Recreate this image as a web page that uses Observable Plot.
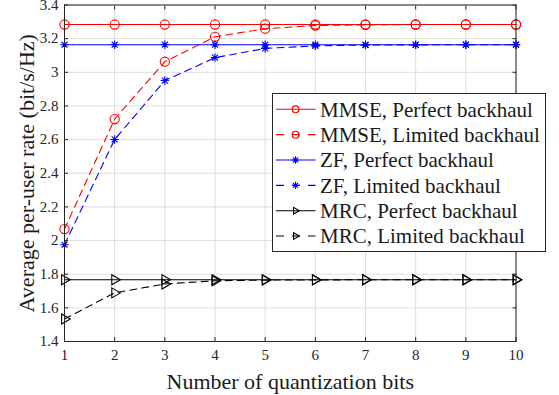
<!DOCTYPE html>
<html><head><meta charset="utf-8">
<script src="https://cdn.jsdelivr.net/npm/d3@7"></script>
<script src="https://cdn.jsdelivr.net/npm/@observablehq/plot@0.6"></script>
<style>
body{margin:0;background:#fff;}
#chart{position:relative;width:559px;height:395px;overflow:hidden;}
#chart svg text{font-family:"Liberation Serif", serif !important;}
#legend{position:absolute;left:272px;top:93px;}
</style></head><body><div id="chart"></div>
<script>
const bits = [1, 2, 3, 4, 5, 6, 7, 8, 9, 10];
const mmsePerfect = [3.284, 3.284, 3.284, 3.284, 3.284, 3.284, 3.284, 3.284, 3.284, 3.284];
const mmseLimited = [2.068, 2.722, 3.063, 3.211, 3.259, 3.278, 3.282, 3.284, 3.284, 3.284];
const zfPerfect = [3.164, 3.164, 3.164, 3.164, 3.164, 3.164, 3.164, 3.164, 3.164, 3.164];
const zfLimited = [1.975, 2.601, 2.951, 3.087, 3.142, 3.157, 3.162, 3.163, 3.164, 3.164];
const mrcPerfect = [1.767, 1.767, 1.767, 1.767, 1.767, 1.767, 1.767, 1.767, 1.767, 1.767];
const mrcLimited = [1.534, 1.689, 1.742, 1.761, 1.765, 1.766, 1.767, 1.767, 1.767, 1.767];
const seriesNames = ["MMSE, Perfect backhaul", "MMSE, Limited backhaul", "ZF, Perfect backhaul", "ZF, Limited backhaul", "MRC, Perfect backhaul", "MRC, Limited backhaul"];
const xTicks = [1, 2, 3, 4, 5, 6, 7, 8, 9, 10];
const xTickLabels = ["1", "2", "3", "4", "5", "6", "7", "8", "9", "10"];
const yTicks = [1.4, 1.6, 1.8, 2, 2.2, 2.4, 2.6, 2.8, 3, 3.2, 3.4];
const yTickLabels = ["1.4", "1.6", "1.8", "2", "2.2", "2.4", "2.6", "2.8", "3", "3.2", "3.4"];
const xLabel = "Number of quantization bits";
const yLabel = "Average per-user rate (bit/s/Hz)";

const asterisk = {
  draw(ctx, size) {
    const r = Math.sqrt(size / Math.PI);
    const d = r * Math.SQRT1_2;
    ctx.moveTo(-r, 0); ctx.lineTo(r, 0);
    ctx.moveTo(0, -r); ctx.lineTo(0, r);
    ctx.moveTo(-d, -d); ctx.lineTo(d, d);
    ctx.moveTo(-d, d); ctx.lineTo(d, -d);
  }
};

const seriesValues = [mmsePerfect, mmseLimited, zfPerfect, zfLimited, mrcPerfect, mrcLimited];
const styles = [
  {color: "#ff0000", dash: null, symbol: "circle", r: 4.6, rotate: 0},
  {color: "#ff0000", dash: "7,5", symbol: "circle", r: 4.6, rotate: 0},
  {color: "#0000ff", dash: null, symbol: asterisk, r: 4.2, rotate: 0},
  {color: "#0000ff", dash: "7,5", symbol: asterisk, r: 4.2, rotate: 0},
  {color: "#000000", dash: null, symbol: "triangle", r: 3.7, rotate: 90},
  {color: "#000000", dash: "7,5", symbol: "triangle", r: 3.7, rotate: 90}
];

const table = seriesNames.map((name, s) => bits.map((b, i) => ({series: name, bits: b, rate: seriesValues[s][i]})));

const fontFamily = "Liberation Serif";
const axisColor = "#262626";

const seriesMarks = [];
table.forEach((rows, s) => {
  const st = styles[s];
  seriesMarks.push(Plot.line(rows, {x: "bits", y: "rate", stroke: st.color, strokeWidth: 1.1, strokeDasharray: st.dash}));
});
table.forEach((rows, s) => {
  const st = styles[s];
  seriesMarks.push(Plot.dot(rows, {x: "bits", y: "rate", stroke: st.color, fill: "none", strokeWidth: 1.1, symbol: st.symbol, r: st.r, rotate: st.rotate}));
});

const plot = Plot.plot({
  width: 559,
  height: 395,
  marginLeft: 64,
  marginRight: 43.5,
  marginTop: 4.5,
  marginBottom: 54,
  style: {fontFamily, background: "white"},
  x: {domain: [1, 10]},
  y: {domain: [1.4, 3.4]},
  marks: [
    Plot.gridX(xTicks, {stroke: "#dedede", strokeOpacity: 1}),
    Plot.gridY(yTicks, {stroke: "#dedede", strokeOpacity: 1}),
    ...seriesMarks,
    Plot.axisX({anchor: "bottom", ticks: xTicks, tickFormat: d => xTickLabels[xTicks.indexOf(d)], tickSize: 0, tickPadding: 8, fontSize: 15, fontFamily, fontVariant: "normal", color: axisColor, label: null}),
    Plot.axisY({anchor: "left", ticks: yTicks, tickFormat: d => yTickLabels[yTicks.indexOf(d)], tickSize: 0, tickPadding: 6, fontSize: 15, fontFamily, fontVariant: "normal", color: axisColor, label: null}),
    Plot.axisX({anchor: "bottom", ticks: [], label: xLabel, labelAnchor: "center", labelArrow: "none", labelOffset: 47, fontSize: 22, fontFamily, color: "#1a1a1a"}),
    Plot.axisY({anchor: "left", ticks: [], label: yLabel, labelAnchor: "center", labelArrow: "none", labelOffset: 46, fontSize: 22, fontFamily, color: "#1a1a1a"}),
    Plot.axisX({anchor: "bottom", ticks: xTicks, tickSize: -4, tickFormat: () => "", label: null, color: axisColor}),
    Plot.axisX({anchor: "top", ticks: xTicks, tickSize: -4, tickFormat: () => "", label: null, color: axisColor}),
    Plot.axisY({anchor: "left", ticks: yTicks, tickSize: -4, tickFormat: () => "", label: null, color: axisColor}),
    Plot.axisY({anchor: "right", ticks: yTicks, tickSize: -4, tickFormat: () => "", label: null, color: axisColor}),
    Plot.frame({stroke: axisColor, strokeWidth: 1})
  ]
});
document.getElementById("chart").appendChild(plot);

// Legend
const lw = 274, lh = 159, rowH = 25.35, row0 = 16.3;
const legend = d3.create("svg").attr("id", "legend").attr("width", lw).attr("height", lh)
  .style("font-family", fontFamily);
legend.append("rect").attr("x", 0.5).attr("y", 0.5).attr("width", lw - 1).attr("height", lh - 1)
  .attr("fill", "white").attr("stroke", axisColor).attr("stroke-width", 1);
seriesNames.forEach((name, s) => {
  const st = styles[s];
  const y = row0 + s * rowH;
  legend.append("line").attr("x1", 4).attr("x2", 43.5).attr("y1", y).attr("y2", y)
    .attr("stroke", st.color).attr("stroke-width", 1.1)
    .attr("stroke-dasharray", st.dash ? "8,8" : null);
  const sym = typeof st.symbol === "string" ? (st.symbol === "circle" ? d3.symbolCircle : d3.symbolTriangle2) : st.symbol;
  const size = Math.PI * st.r * st.r * (st.symbol === "circle" ? 0.55 : 0.75);
  legend.append("path").attr("d", d3.symbol(sym, size)())
    .attr("transform", `translate(23.5,${y}) rotate(${st.rotate})`)
    .attr("fill", "none").attr("stroke", st.color).attr("stroke-width", 1.1);
  legend.append("text").attr("x", 48).attr("y", y).attr("dy", "0.35em")
    .attr("font-family", fontFamily)
    .attr("font-size", 21).attr("fill", "#1a1a1a").text(name);
});
document.getElementById("chart").appendChild(legend.node());
</script>
</body></html>
